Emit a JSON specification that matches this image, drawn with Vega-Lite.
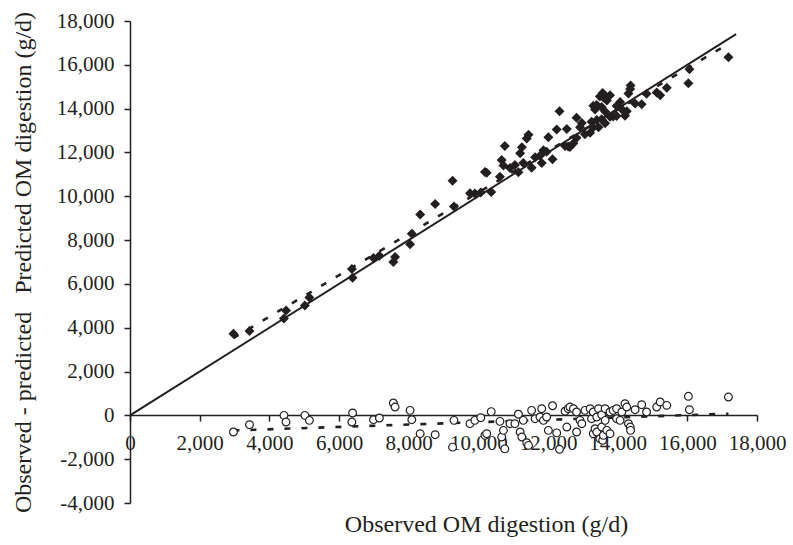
{
  "$schema": "https://vega.github.io/schema/vega-lite/v6.json",
  "width": 627,
  "height": 482,
  "autosize": "none",
  "padding": {"left": 130, "top": 21, "right": 36, "bottom": 42},
  "background": "white",
  "config": {
    "view": {"stroke": null},
    "font": "Liberation Serif",
    "axis": {
      "grid": false,
      "domainColor": "#231f20",
      "domainWidth": 1.5,
      "tickColor": "#231f20",
      "tickWidth": 1.5,
      "tickSize": 6,
      "labelFont": "Liberation Serif",
      "labelFontSize": 21,
      "labelColor": "#231f20",
      "titleFont": "Liberation Serif",
      "titleFontSize": 24,
      "titleFontWeight": "normal",
      "titleColor": "#231f20"
    }
  },
  "datasets": {
    "lines": [
      {"series": "identity", "obs": 0, "val": 0},
      {"series": "identity", "obs": 17400, "val": 17400},
      {"series": "predfit", "obs": 2970, "val": 3530},
      {"series": "predfit", "obs": 17180, "val": 16960},
      {"series": "residfit", "obs": 2970, "val": -690},
      {"series": "residfit", "obs": 17180, "val": 75}
    ],
    "points": [
      {"obs": 2970, "pred": 3730, "resid": -760},
      {"obs": 3430, "pred": 3855, "resid": -425},
      {"obs": 4420, "pred": 4420, "resid": 0},
      {"obs": 4480, "pred": 4785, "resid": -305},
      {"obs": 5020, "pred": 5020, "resid": 0},
      {"obs": 5150, "pred": 5378, "resid": -228},
      {"obs": 6370, "pred": 6675, "resid": -305},
      {"obs": 6390, "pred": 6283, "resid": 107},
      {"obs": 6990, "pred": 7188, "resid": -198},
      {"obs": 7160, "pred": 7282, "resid": -122},
      {"obs": 7560, "pred": 6997, "resid": 563},
      {"obs": 7610, "pred": 7230, "resid": 380},
      {"obs": 8040, "pred": 7812, "resid": 228},
      {"obs": 8090, "pred": 8288, "resid": -198},
      {"obs": 8330, "pred": 9166, "resid": -836},
      {"obs": 8760, "pred": 9642, "resid": -882},
      {"obs": 9260, "pred": 10710, "resid": -1450},
      {"obs": 9300, "pred": 9528, "resid": -228},
      {"obs": 9760, "pred": 10140, "resid": -380},
      {"obs": 9900, "pred": 10128, "resid": -228},
      {"obs": 10070, "pred": 10175, "resid": -105},
      {"obs": 10190, "pred": 11103, "resid": -913},
      {"obs": 10240, "pred": 11076, "resid": -836},
      {"obs": 10370, "pred": 10200, "resid": 170},
      {"obs": 10620, "pred": 10894, "resid": -274},
      {"obs": 10670, "pred": 11660, "resid": -990},
      {"obs": 10720, "pred": 11405, "resid": -685},
      {"obs": 10760, "pred": 12290, "resid": -1530},
      {"obs": 10910, "pred": 11290, "resid": -380},
      {"obs": 11050, "pred": 11430, "resid": -380},
      {"obs": 11150, "pred": 11100, "resid": 50},
      {"obs": 11200, "pred": 11960, "resid": -760},
      {"obs": 11250, "pred": 12240, "resid": -990},
      {"obs": 11290, "pred": 11518, "resid": -228},
      {"obs": 11390, "pred": 12640, "resid": -1250},
      {"obs": 11440, "pred": 12810, "resid": -1370},
      {"obs": 11530, "pred": 11302, "resid": 228},
      {"obs": 11630, "pred": 11782, "resid": -152},
      {"obs": 11770, "pred": 11846, "resid": -76},
      {"obs": 11820, "pred": 11515, "resid": 305},
      {"obs": 11870, "pred": 12098, "resid": -228},
      {"obs": 11960, "pred": 12036, "resid": -76},
      {"obs": 12010, "pred": 12695, "resid": -685},
      {"obs": 12130, "pred": 11690, "resid": 440},
      {"obs": 12250, "pred": 13050, "resid": -800},
      {"obs": 12330, "pred": 13880, "resid": -1550},
      {"obs": 12490, "pred": 12300, "resid": 190},
      {"obs": 12540, "pred": 13073, "resid": -533},
      {"obs": 12580, "pred": 12275, "resid": 305},
      {"obs": 12630, "pred": 12250, "resid": 380},
      {"obs": 12730, "pred": 12425, "resid": 305},
      {"obs": 12820, "pred": 12668, "resid": 152},
      {"obs": 12820, "pred": 13580, "resid": -760},
      {"obs": 12920, "pred": 13148, "resid": -228},
      {"obs": 12970, "pred": 13350, "resid": -380},
      {"obs": 13060, "pred": 12832, "resid": 228},
      {"obs": 13210, "pred": 12905, "resid": 305},
      {"obs": 13250, "pred": 13402, "resid": -152},
      {"obs": 13300, "pred": 13148, "resid": 152},
      {"obs": 13300, "pred": 14136, "resid": -836},
      {"obs": 13350, "pred": 13960, "resid": -610},
      {"obs": 13400, "pred": 13476, "resid": -76},
      {"obs": 13400, "pred": 14162, "resid": -762},
      {"obs": 13450, "pred": 13145, "resid": 305},
      {"obs": 13490, "pred": 14555, "resid": -1065},
      {"obs": 13540, "pred": 13510, "resid": 30},
      {"obs": 13540, "pred": 14073, "resid": -533},
      {"obs": 13570, "pred": 14710, "resid": -1140},
      {"obs": 13590, "pred": 14503, "resid": -913},
      {"obs": 13640, "pred": 13335, "resid": 305},
      {"obs": 13640, "pred": 13868, "resid": -228},
      {"obs": 13690, "pred": 14375, "resid": -685},
      {"obs": 13780, "pred": 13628, "resid": 152},
      {"obs": 13780, "pred": 14616, "resid": -836},
      {"obs": 13870, "pred": 13642, "resid": 228},
      {"obs": 13970, "pred": 13665, "resid": 305},
      {"obs": 13970, "pred": 14122, "resid": -152},
      {"obs": 14070, "pred": 14298, "resid": -228},
      {"obs": 14120, "pred": 13968, "resid": 152},
      {"obs": 14210, "pred": 13677, "resid": 533},
      {"obs": 14260, "pred": 13880, "resid": 380},
      {"obs": 14310, "pred": 14690, "resid": -380},
      {"obs": 14360, "pred": 14893, "resid": -533},
      {"obs": 14370, "pred": 15055, "resid": -685},
      {"obs": 14500, "pred": 14240, "resid": 260},
      {"obs": 14690, "pred": 14202, "resid": 488},
      {"obs": 14830, "pred": 14678, "resid": 152},
      {"obs": 15120, "pred": 14740, "resid": 380},
      {"obs": 15220, "pred": 14611, "resid": 609},
      {"obs": 15410, "pred": 14953, "resid": 457},
      {"obs": 16030, "pred": 15162, "resid": 868},
      {"obs": 16060, "pred": 15800, "resid": 260},
      {"obs": 17180, "pred": 16344, "resid": 836}
    ]
  },
  "encoding": {
    "x": {
      "type": "quantitative",
      "scale": {"domain": [0, 18000], "nice": false, "zero": false},
      "axis": {
        "orient": "bottom",
        "offset": -88,
        "values": [0, 2000, 4000, 6000, 8000, 10000, 12000, 14000, 16000, 18000],
        "labelExpr": "replace(format(datum.value, ','), '\u2212', '-')",
        "labelPadding": 11,
        "labelFlush": false,
        "labelOverlap": false,
        "title": "Observed OM digestion (g/d)",
        "titleX": 356,
        "titleY": 116,
        "titleBaseline": "alphabetic",
        "titleAnchor": "middle"
      }
    },
    "y": {
      "type": "quantitative",
      "scale": {"domain": [-4000, 18000], "nice": false, "zero": false},
      "axis": {
        "values": [-4000, -2000, 0, 2000, 4000, 6000, 8000, 10000, 12000, 14000, 16000, 18000],
        "labelExpr": "replace(format(datum.value, ','), '\u2212', '-')",
        "labelPadding": 10,
        "labelFlush": false,
        "labelOverlap": false,
        "title": "Observed - predicted\u00a0\u00a0\u00a0Predicted OM digestion (g/d)",
        "titleX": -100,
        "titleBaseline": "alphabetic",
        "titleAnchor": "middle"
      }
    }
  },
  "layer": [
    {
      "data": {"name": "lines"},
      "transform": [{"filter": "datum.series === 'identity'"}],
      "mark": {"type": "line", "color": "#231f20", "strokeWidth": 2},
      "encoding": {"x": {"field": "obs"}, "y": {"field": "val"}}
    },
    {
      "data": {"name": "lines"},
      "transform": [{"filter": "datum.series !== 'identity'"}],
      "mark": {"type": "line", "color": "#231f20", "strokeWidth": 2.6, "strokeDash": [6, 11]},
      "encoding": {"x": {"field": "obs"}, "y": {"field": "val"}, "detail": {"field": "series"}}
    },
    {
      "data": {"name": "points"},
      "mark": {"type": "point", "shape": "diamond", "filled": true, "color": "#231f20", "size": 100, "opacity": 1},
      "encoding": {"x": {"field": "obs"}, "y": {"field": "pred"}}
    },
    {
      "data": {"name": "points"},
      "mark": {"type": "point", "shape": "circle", "filled": false, "fill": "white", "stroke": "#231f20", "strokeWidth": 1.2, "size": 60, "opacity": 1, "fillOpacity": 1},
      "encoding": {"x": {"field": "obs"}, "y": {"field": "resid"}}
    }
  ]
}
